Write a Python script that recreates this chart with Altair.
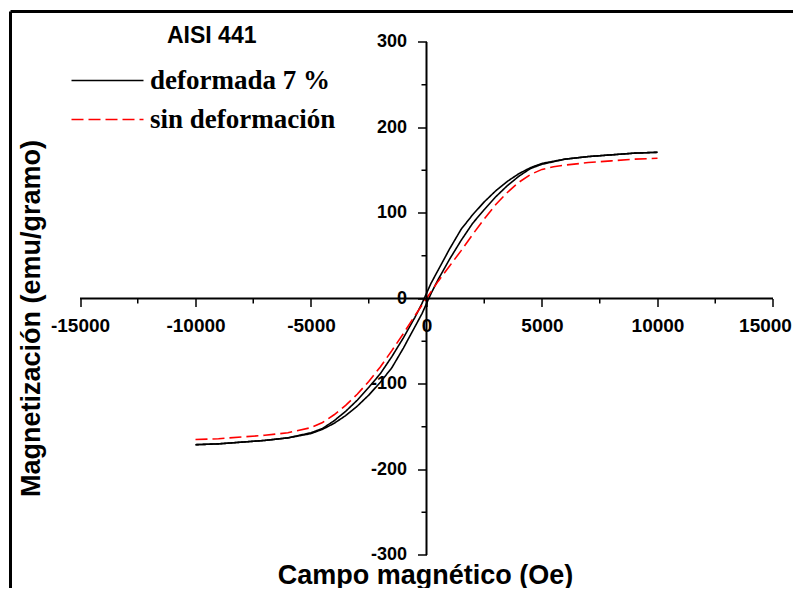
import altair as alt
import pandas as pd

# ---------------- data ----------------
SERIES = ["deformada 7 %", "sin deformación"]
COLORS = ["#000000", "#ff0000"]
TITLE_TEXT = "AISI 441"
X_TITLE = "Campo magnético (Oe)"
Y_TITLE = "Magnetización (emu/gramo)"

# deformada 7 % : descending branch (from +H to -H)
H_DESC = [10000, 9000, 8000, 7000, 6000, 5000, 4500, 4000, 3500, 3000, 2500, 2000,
          1500, 1000, 500, 200, 0, -200, -500, -1000, -1500, -2000, -2500, -3000,
          -3500, -4000, -4500, -5000, -6000, -7000, -8000, -9000, -10000]
M_DESC = [171, 170, 168, 166, 163, 158, 153, 146, 137, 126, 113, 98,
          81, 58, 33, 18, 6, -6, -22, -46, -68, -88, -104, -119,
          -132, -143, -152, -157, -163, -166, -168, -170, -171]

# deformada 7 % : ascending branch (from -H to +H)
H_ASC = [-10000, -9000, -8000, -7000, -6000, -5000, -4500, -4000, -3500, -3000, -2500, -2000,
         -1500, -1000, -500, -200, 0, 200, 500, 1000, 1500, 2000, 2500, 3000,
         3500, 4000, 4500, 5000, 6000, 7000, 8000, 9000, 10000]
M_ASC = [-171, -170, -168, -166, -163, -158, -153, -146, -137, -126, -113, -98,
         -81, -58, -33, -18, -6, 6, 22, 46, 68, 88, 104, 119,
         132, 143, 152, 157, 163, 166, 168, 170, 171]

# sin deformación
H_RED = [-10000, -9000, -8000, -7000, -6000, -5000, -4500, -4000, -3500, -3000, -2500, -2000,
         -1500, -1000, -500, 0, 500, 1000, 1500, 2000, 2500, 3000, 3500, 4000,
         4500, 5000, 5500, 6000, 7000, 8000, 9000, 10000]
M_RED = [-165, -164, -162, -160, -157, -151, -145, -136, -125, -112, -97, -80,
         -61, -41, -20, 0, 20, 38, 56, 75, 93, 110, 124, 136,
         145, 151, 154, 156, 159, 161, 163, 164]

X_TICKS = [-15000, -10000, -5000, 0, 5000, 10000, 15000]
X_MINOR = [-12500, -7500, -2500, 2500, 7500, 12500]
Y_TICKS = [-300, -200, -100, 0, 100, 200, 300]
Y_MINOR = [-250, -150, -50, 50, 150, 250]

# ---------------- layout constants ----------------
W = 782.5
H = 576.5
X_DOMAIN = [-18008.7, 15866.1]
Y_DOMAIN = [-338.6, 335.67]

rows = []
for i, (h, m) in enumerate(zip(H_DESC, M_DESC)):
    rows.append({"serie": SERIES[0], "rama": "a", "idx": i, "H": h, "M": m})
for i, (h, m) in enumerate(zip(H_ASC, M_ASC)):
    rows.append({"serie": SERIES[0], "rama": "b", "idx": i, "H": h, "M": m})
for i, (h, m) in enumerate(zip(H_RED, M_RED)):
    rows.append({"serie": SERIES[1], "rama": "c", "idx": i, "H": h, "M": m})
df = pd.DataFrame(rows)

xs = alt.Scale(domain=X_DOMAIN, nice=False, zero=False)
ys = alt.Scale(domain=Y_DOMAIN, nice=False, zero=False)

legend = alt.Legend(
    title=None, orient="none", legendX=83.5, legendY=55.5,
    symbolType="M-3,0H3", symbolSize=576, symbolStrokeWidth=1.6,
    labelFont="Liberation Serif", labelFontWeight="bold", labelFontSize=27,
    labelColor="black", labelOffset=29, rowPadding=11, labelLimit=500, padding=0,
)

x_axis = alt.Axis(
    values=X_TICKS, domain=False, grid=False, tickSize=8, tickWidth=1.5, tickColor="black",
    labelFont="Liberation Sans", labelFontWeight="bold", labelFontSize=19, labelColor="black",
    labelPadding=10, labelExpr="datum.value + ''", labelOverlap=False, labelFlush=False,
    labelOffset={"condition": {"test": "datum.value == 15000", "value": -8}, "value": 0},
    offset=-289.5, title=X_TITLE, titleX=414.5, titleY=284.5, titleAlign="center",
    titleBaseline="alphabetic", titleFont="Liberation Sans", titleFontWeight="bold",
    titleFontSize=27, titleColor="black",
)
y_axis = alt.Axis(
    values=Y_TICKS, domain=False, grid=False, tickSize=9, tickWidth=1.5, tickColor="black",
    labelFont="Liberation Sans", labelFontWeight="bold", labelFontSize=18, labelColor="black",
    labelPadding=11, labelExpr="datum.value + ''", labelOverlap=False, labelFlush=False,
    offset=-416, title=Y_TITLE, titleX=-395.5, titleY=306.5, titleAngle=270,
    titleAlign="center", titleBaseline="middle", titleFont="Liberation Sans",
    titleFontWeight="bold", titleFontSize=27, titleColor="black",
)

lines = alt.Chart(df).mark_line(strokeWidth=1.6).encode(
    x=alt.X("H:Q", scale=xs, axis=x_axis),
    y=alt.Y("M:Q", scale=ys, axis=y_axis),
    color=alt.Color("serie:N", scale=alt.Scale(domain=SERIES, range=COLORS), legend=legend),
    strokeDash=alt.StrokeDash("serie:N", scale=alt.Scale(domain=SERIES, range=[[1, 0], [12, 5]]), legend=legend),
    detail="rama:N",
    order="idx:Q",
)

axis_x_line = alt.Chart(pd.DataFrame({"a": [X_TICKS[0]], "b": [X_TICKS[-1]], "y": [0]})).mark_rule(
    strokeWidth=2, color="black").encode(
    x=alt.X("a:Q", scale=xs), x2="b:Q", y=alt.Y("y:Q", scale=ys))
axis_y_line = alt.Chart(pd.DataFrame({"a": [Y_TICKS[0]], "b": [Y_TICKS[-1]], "x": [0]})).mark_rule(
    strokeWidth=2, color="black").encode(
    y=alt.Y("a:Q", scale=ys), y2="b:Q", x=alt.X("x:Q", scale=xs))

minor_x = alt.Chart(pd.DataFrame({"v": X_MINOR, "z": [0] * len(X_MINOR)})).mark_tick(
    orient="vertical", size=5, thickness=1.5, color="black", yOffset=2.5, opacity=1).encode(
    x=alt.X("v:Q", scale=xs), y=alt.Y("z:Q", scale=ys))
minor_y = alt.Chart(pd.DataFrame({"v": Y_MINOR, "z": [0] * len(Y_MINOR)})).mark_tick(
    orient="horizontal", size=5, thickness=1.5, color="black", xOffset=-2.5, opacity=1).encode(
    y=alt.Y("v:Q", scale=ys), x=alt.X("z:Q", scale=xs))

one = pd.DataFrame({"t": [TITLE_TEXT]})
frame_left = alt.Chart(one).mark_rule(strokeWidth=3, color="black").encode(
    x=alt.value(0), y=alt.value(0), y2=alt.value(H))
frame_top = alt.Chart(one).mark_rule(strokeWidth=3, color="black").encode(
    x=alt.value(0), x2=alt.value(W), y=alt.value(0))
title = alt.Chart(one).mark_text(
    font="Liberation Sans", fontWeight="bold", fontSize=23, align="left",
    baseline="alphabetic", color="black").encode(
    x=alt.value(156.5), y=alt.value(31.5), text="t:N")

chart = alt.layer(
    lines, frame_left, frame_top, axis_x_line, axis_y_line, minor_x, minor_y, title
).properties(
    width=W, height=H,
    autosize=alt.AutoSizeParams(type="none"),
    padding={"left": 2.5, "top": 3.5, "right": 0, "bottom": 0},
    background="white",
).configure_view(stroke=None)

chart.save("out.html", embed_options={"renderer": "svg", "actions": False})
